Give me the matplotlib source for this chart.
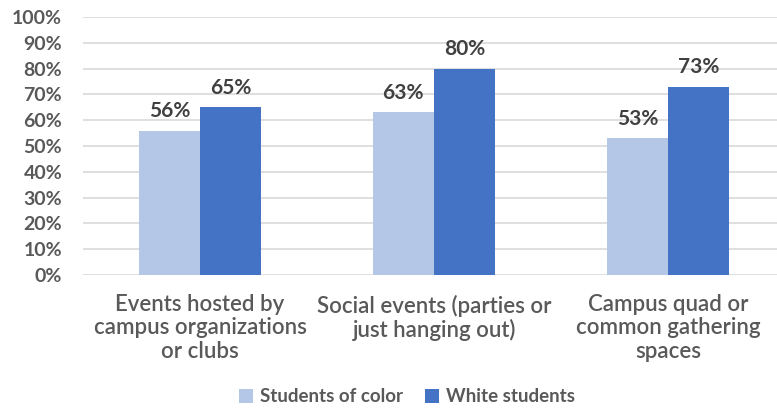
import matplotlib
matplotlib.use("Agg")
import matplotlib.pyplot as plt
import numpy as np

categories = ["Events hosted by\ncampus organizations\nor clubs",
              "Social events (parties or\njust hanging out)",
              "Campus quad or\ncommon gathering\nspaces"]
series_names = ["Students of color", "White students"]
students_of_color = [56, 63, 53]
white_students = [65, 80, 73]
yticks = list(range(0, 101, 10))

colors = ["#B4C7E7", "#4472C4"]
plt.rcParams['font.family'] = ['Lato', 'DejaVu Sans']

fig = plt.figure(figsize=(7.77, 4.08), dpi=100)
ax = fig.add_axes([83/777, 1 - 275/408, (777 - 83)/777, (275 - 17)/408])

x = np.arange(len(categories))
w = 0.262
b1 = ax.bar(x - w/2, students_of_color, w, color=colors[0], label=series_names[0], zorder=3)
b2 = ax.bar(x + w/2, white_students, w, color=colors[1], label=series_names[1], zorder=3)

for bars in (b1, b2):
    for r in bars:
        ax.annotate(f"{r.get_height():.0f}%", (r.get_x() + r.get_width()/2, r.get_height()),
                    xytext=(0, 7), textcoords="offset points", ha="center", va="bottom",
                    fontsize=15, fontweight="bold", color="#404040")

ax.set_ylim(0, 100)
ax.set_xlim(-0.5, -0.5 + (777 - 83)/234)
ax.set_yticks(yticks)
ax.set_yticklabels([f"{t}%" for t in yticks], fontsize=14, fontweight="bold", color="#595959")
ax.set_xticks(x)
ax.set_xticklabels(categories, fontsize=16, fontweight=600, color="#595959", linespacing=1.12)
ax.tick_params(axis="both", length=0)
ax.tick_params(axis="y", pad=15)
ax.tick_params(axis="x", pad=14)
ax.grid(axis="y", color="#D9D9D9", linewidth=1.2, zorder=0)
for s in ax.spines.values():
    s.set_visible(False)

leg = fig.legend(handles=[b1, b2], labels=series_names, loc="center", bbox_to_anchor=(407/777, 1 - 397/408),
                 ncol=2, frameon=False, fontsize=13.5, handlelength=0.75, handleheight=0.75,
                 handletextpad=0.35, columnspacing=1.2)
for t in leg.get_texts():
    t.set_color("#595959")
    t.set_fontweight("bold")

fig.savefig("out.png", dpi=100)
